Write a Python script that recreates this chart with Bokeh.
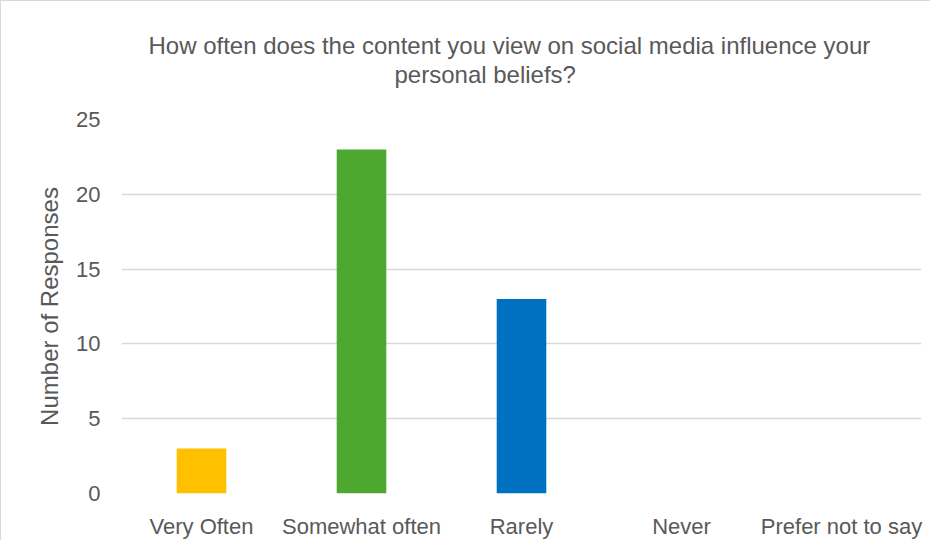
from bokeh.plotting import figure
from bokeh.models import Title, Range1d, FixedTicker
from bokeh.embed import file_html
from bokeh.resources import INLINE

categories = ["Very Often", "Somewhat often", "Rarely", "Never", "Prefer not to say"]
responses = [3, 23, 13, 0, 0]
bar_colors = ["#FFC000", "#4EA72E", "#0070C0", "#A5A5A5", "#5B9BD5"]
y_ticks = [0, 5, 10, 15, 20, 25]
title_lines = ["How often does the content you view on social media influence your",
               "personal beliefs?"]

FONT = "Liberation Sans"
GREY = "#595959"

p = figure(x_range=categories, width=930, height=540, output_backend="svg",
           toolbar_location=None, min_border_left=120, min_border_right=10,
           min_border_top=118, min_border_bottom=44)
p.y_range = Range1d(0, 25)

p.vbar(x=categories, top=responses, width=0.31, fill_color=bar_colors, line_color=None)

p.outline_line_color = None
p.xgrid.grid_line_color = None
p.ygrid.grid_line_color = "#D9D9D9"
p.ygrid.grid_line_width = 1.5
p.yaxis.ticker = FixedTicker(ticks=y_ticks)

for ax in (p.xaxis, p.yaxis):
    ax.axis_line_color = None
    ax.major_tick_line_color = None
    ax.minor_tick_line_color = None
    ax.major_label_text_font = FONT
    ax.major_label_text_color = GREY
    ax.major_label_text_font_size = "22px"
p.xaxis.major_label_standoff = 14
p.yaxis.major_label_standoff = 15
p.yaxis.axis_label = "Number of Responses"
p.yaxis.axis_label_text_font = FONT
p.yaxis.axis_label_text_font_style = "normal"
p.yaxis.axis_label_text_color = GREY
p.yaxis.axis_label_text_font_size = "24px"
p.yaxis.axis_label_standoff = 10

# blank spacer nearest the frame, then the second title line, then the first
p.add_layout(Title(text=" ", text_font=FONT, text_font_size="24px", standoff=3), "above")
title_offsets = [27, 273]
for line, off in reversed(list(zip(title_lines, title_offsets))):
    p.add_layout(Title(text=line, align="left", text_font=FONT, text_font_size="24px",
                       text_font_style="normal", text_color=GREY, standoff=0,
                       offset=off), "above")

p.styles = {"border-top": "1px solid #D9D9D9", "border-left": "1px solid #D9D9D9"}

open("out.html", "w").write(file_html(p, INLINE))
